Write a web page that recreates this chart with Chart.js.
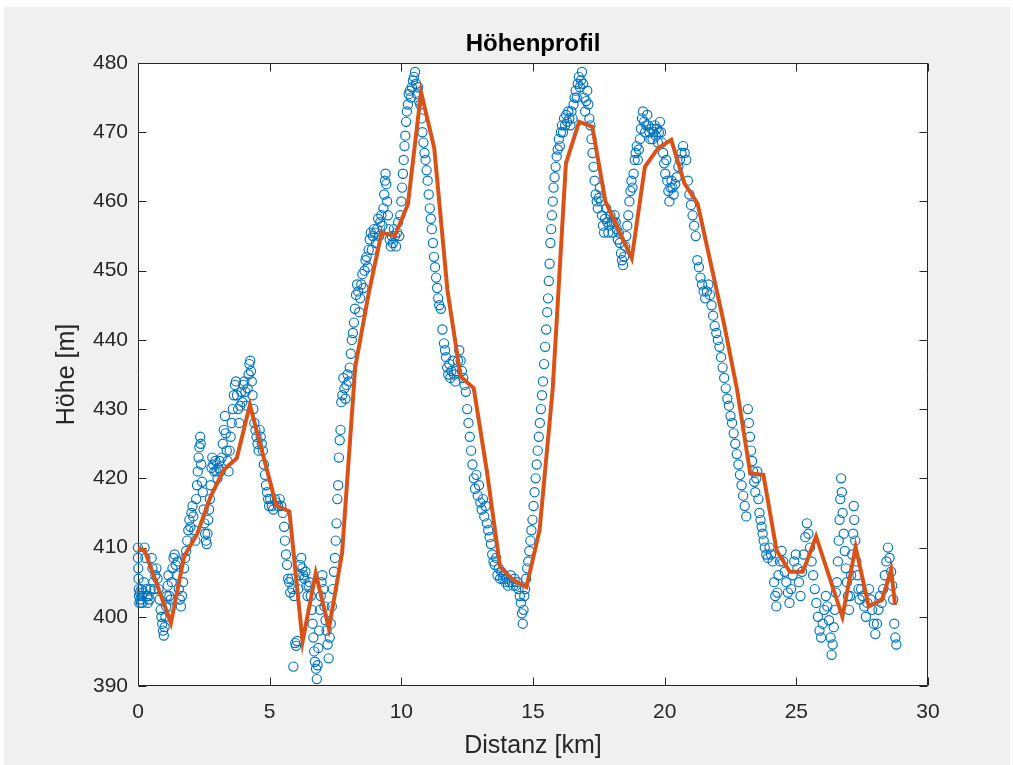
<!DOCTYPE html>
<html><head><meta charset="utf-8">
<script src="https://cdn.jsdelivr.net/npm/chart.js@4/dist/chart.umd.min.js"></script>
<style>html,body{margin:0;padding:0;background:#fff;overflow:hidden}</style>
</head><body>
<canvas id="c" width="1013" height="765" style="display:block;width:1013px;height:765px"></canvas>
<script>
// Axis ticks
const xTicks = [0, 5, 10, 15, 20, 25, 30];
const yTicks = [390, 400, 410, 420, 430, 440, 450, 460, 470, 480];

// Measured track: distance [km]
const trackKm = [
0.00,0.00,0.01,0.02,0.03,0.04,0.05,0.07,0.09,0.11,
0.13,0.15,0.17,0.20,0.22,0.25,0.28,0.31,0.34,0.37,
0.40,0.44,0.48,0.52,0.55,0.58,0.62,0.66,0.70,0.74,
0.78,0.82,0.86,0.89,0.92,0.95,0.98,1.01,1.04,1.07,
1.10,1.13,1.16,1.19,1.22,1.25,1.28,1.31,1.35,1.39,
1.43,1.47,1.51,1.55,1.59,1.63,1.67,1.71,1.75,1.79,
1.83,1.87,1.91,1.95,1.99,2.03,2.07,2.10,2.14,2.18,
2.21,2.24,2.27,2.30,2.33,2.36,2.38,2.40,2.43,2.46,
2.49,2.52,2.55,2.58,2.61,2.64,2.67,2.70,2.73,2.76,
2.79,2.82,2.86,2.90,2.94,2.98,3.02,3.06,3.10,3.14,
3.18,3.22,3.26,3.30,3.33,3.37,3.40,3.44,3.48,3.52,
3.56,3.60,3.64,3.68,3.72,3.76,3.80,3.84,3.88,3.92,
3.96,4.00,4.04,4.08,4.12,4.16,4.20,4.23,4.26,4.29,
4.32,4.35,4.38,4.42,4.46,4.50,4.54,4.58,4.62,4.66,
4.70,4.74,4.78,4.82,4.86,4.90,4.94,4.98,5.02,5.08,
5.14,5.20,5.26,5.32,5.38,5.44,5.50,5.55,5.58,5.62,
5.66,5.70,5.74,5.78,5.82,5.86,5.90,5.93,5.97,6.00,
6.04,6.08,6.12,6.16,6.20,6.24,6.28,6.32,6.36,6.40,
6.44,6.48,6.52,6.56,6.60,6.63,6.66,6.69,6.72,6.76,
6.79,6.82,6.85,6.88,6.91,6.94,6.97,7.00,7.04,7.08,
7.12,7.16,7.20,7.24,7.28,7.32,7.36,7.40,7.44,7.48,
7.51,7.54,7.57,7.60,7.63,7.66,7.69,7.72,7.76,7.80,
7.84,7.88,7.92,7.96,8.00,8.04,8.08,8.12,8.16,8.20,
8.24,8.28,8.32,8.36,8.40,8.44,8.48,8.52,8.56,8.60,
8.64,8.68,8.72,8.76,8.80,8.84,8.88,8.92,8.96,9.00,
9.04,9.08,9.12,9.16,9.20,9.24,9.28,9.32,9.35,9.38,
9.40,9.43,9.46,9.49,9.52,9.56,9.60,9.64,9.68,9.72,
9.76,9.80,9.84,9.88,9.92,9.96,10.00,10.03,10.06,10.09,
10.12,10.15,10.18,10.21,10.25,10.28,10.32,10.36,10.40,10.44,
10.48,10.52,10.56,10.60,10.64,10.68,10.72,10.76,10.80,10.84,
10.88,10.92,10.96,11.00,11.04,11.08,11.12,11.16,11.20,11.24,
11.28,11.32,11.36,11.40,11.44,11.50,11.56,11.62,11.66,11.70,
11.74,11.78,11.82,11.86,11.90,11.95,12.00,12.05,12.10,12.15,
12.20,12.25,12.30,12.35,12.40,12.45,12.50,12.55,12.60,12.65,
12.70,12.75,12.80,12.85,12.90,12.95,13.00,13.05,13.10,13.15,
13.20,13.25,13.30,13.35,13.40,13.45,13.50,13.55,13.60,13.65,
13.70,13.75,13.80,13.85,13.90,13.95,14.00,14.05,14.10,14.15,
14.20,14.25,14.30,14.35,14.40,14.45,14.50,14.54,14.58,14.61,
14.64,14.67,14.70,14.74,14.78,14.82,14.86,14.90,14.94,14.98,
15.02,15.06,15.10,15.14,15.18,15.22,15.26,15.30,15.34,15.38,
15.42,15.46,15.50,15.54,15.57,15.60,15.63,15.66,15.69,15.72,
15.75,15.78,15.82,15.86,15.90,15.94,15.98,16.02,16.06,16.10,
16.14,16.18,16.22,16.26,16.30,16.34,16.38,16.42,16.46,16.50,
16.54,16.58,16.62,16.66,16.70,16.74,16.78,16.82,16.86,16.90,
16.94,16.98,17.02,17.06,17.10,17.14,17.18,17.22,17.26,17.30,
17.34,17.38,17.42,17.46,17.50,17.54,17.58,17.62,17.66,17.70,
17.74,17.78,17.82,17.86,17.90,17.94,17.98,18.02,18.06,18.10,
18.14,18.18,18.22,18.26,18.30,18.34,18.38,18.42,18.46,18.50,
18.54,18.58,18.62,18.66,18.70,18.74,18.78,18.82,18.86,18.90,
18.94,18.98,19.02,19.06,19.10,19.14,19.18,19.22,19.26,19.30,
19.34,19.38,19.42,19.46,19.50,19.54,19.58,19.62,19.66,19.70,
19.74,19.78,19.82,19.86,19.90,19.94,19.98,20.02,20.06,20.10,
20.14,20.18,20.22,20.26,20.30,20.34,20.40,20.46,20.52,20.58,
20.64,20.70,20.76,20.82,20.88,20.94,21.00,21.06,21.12,21.18,
21.24,21.30,21.36,21.42,21.48,21.54,21.60,21.66,21.72,21.78,
21.84,21.90,21.96,22.02,22.08,22.14,22.20,22.26,22.32,22.38,
22.44,22.50,22.56,22.62,22.68,22.74,22.80,22.86,22.92,22.98,
23.04,23.10,23.16,23.20,23.24,23.28,23.32,23.36,23.40,23.44,
23.48,23.52,23.56,23.60,23.64,23.68,23.72,23.76,23.80,23.86,
23.92,23.98,24.04,24.10,24.16,24.20,24.24,24.28,24.32,24.38,
24.44,24.50,24.56,24.62,24.68,24.74,24.80,24.86,24.92,24.98,
25.04,25.10,25.16,25.22,25.28,25.34,25.40,25.46,25.52,25.58,
25.64,25.70,25.76,25.82,25.88,25.94,26.00,26.06,26.12,26.18,
26.24,26.30,26.34,26.38,26.42,26.46,26.50,26.54,26.58,26.61,
26.64,26.67,26.70,26.73,26.76,26.80,26.84,26.88,26.92,26.96,
27.00,27.04,27.08,27.12,27.16,27.18,27.20,27.24,27.28,27.32,
27.36,27.40,27.46,27.52,27.58,27.64,27.70,27.76,27.82,27.88,
27.94,28.00,28.06,28.12,28.18,28.24,28.30,28.36,28.42,28.48,
28.54,28.60,28.64,28.68,28.72,28.76,28.80
];

// Measured track: elevation [m]
const trackM = [
410,408.5,407,405.5,404,403,402,403.5,402.5,402,
404,403,402,403.5,405,410,408.5,404,403,402,
403,402.5,404,408.5,407,405,404,406,407,405.5,
404,402.5,401,400,399,398,397.3,398.5,400,401.5,
403,404.5,406,403,401.5,402.5,405,407,408.5,409,
407.5,406,408,404,402.5,401.5,403,405,407,408.5,
409.5,411,412.5,414,413,415,416,414.5,412.5,411,
417,419,421,423,424.5,426,425,422,419.5,418,
415.5,413.5,412,411,410.5,412,414,415.5,417,419,
421.5,423,422,421,422.5,421,420,421.5,422.5,421,
423,425,427,429,426.5,424,422.5,421,424,426,
428,430,432,433.5,434,432,430,428,430.5,432.5,
431,433.5,434,432.5,430.5,433,435,436.5,437,435.5,
434,432,430,428,427,426,425,424,427,426,
425,424,422,420.5,419,418,417,416,417,416,
415.5,417,416.5,416,417,416,415,413,411,409,
407.5,405.5,405,403.5,405.5,404,392.8,403,396.2,395.8,
396.5,404,406,407.5,408.5,407,406,405.5,406.5,404.5,
403,404.5,405,403,401,399,397,395,393.5,392.5,
391,393,395.5,398,401,403,405,406,404,401.5,
399.5,398,396,394,397,399,401.5,404,406.5,408.5,
411,413.5,417,419,423,425.5,427,431,432,434.5,
433,431.5,433.5,435,434,436,438,440,441,442.5,
444.5,446.5,448,447,444,446,448,449.5,447.5,450,
451.5,452,450.5,453,454.5,455.5,453,455,456,455.5,
454,456,457.5,455,457,458,456.5,459,461,463,
464,462.5,460,458,456,454.5,453.5,455,454,456,
455,453.5,455.5,457,455,458,460,462,464,466,
468,469.5,471.5,473,474,475.5,476,475,476.5,477.5,
478,478.7,477,475.5,476.5,474.5,474,472,470,468.5,
467,466,464.5,463,461,459,457.5,456,454,452,
450.5,449,447.5,446,445,444.5,441.5,439.5,438.5,437.5,
436,435,436.5,434.5,435.5,437,435,434,435.5,437,
438.5,437,435.5,434.5,433.5,432.5,430,428,426,424,
422,420,418.5,420.5,417.5,419,416.5,415.5,417,414.5,
416,413.5,412.5,411.5,410.5,409,408,407.5,408.5,406,
407,405.5,406.5,405.5,406,405,405.5,404.5,405,406,
405,404.5,405.5,404.5,405,404,403,402,400.5,399,
401,403,404,405.5,407,408,409.5,411,412.5,414,
416,418,420,422,424,426,428,430,432,434,
436.5,439,441.5,444,446,448.5,451,454,456,458,
460,462,463.5,465,466.5,467.5,469,468,470,471,
470,472,471,472.5,471.5,473,472,471,473,472,
474,475,476,475,477,478,476.5,477.5,478.7,477,
475,473,474.5,476,474,472,471,469,467,465,
463,461,460,459,460.5,462,460,458,456.5,455.5,
457.5,459,457,455.5,456.5,458,457,455.5,457,458,
457,456,454.5,455.5,454,452.5,451.5,450.8,452,453.5,
455,456.5,458,460,461.5,463,462,464,466,467,
468,466,467.5,469,470.5,472,473,471.5,470,471,
472.5,471,470,469,470.5,469,470,471,469.5,470.5,
468.5,470,471.5,470,468.5,467,465.5,464,466,463,
461.5,460,462,463,462,461,462.5,463.5,465,466,
467,468,467,466,463,461,459.5,458,456.5,455,
451.5,450.5,449,448,447,446,447,448,446.5,445,
443.5,442,441,440,439,437.5,436,434.5,433,431.5,
430.5,429,428,426.5,425,423.5,422,420.5,419,417.5,
416,414.5,430,428,426,424,422.5,421,419.5,418,
420,421,417,415,414,413,412,411,410,409,
408.5,410,409,408,405,403,401.5,403.5,406,408,
409.5,408,406.5,405,403.5,402,404,406,408,409,
407,405,403,406.5,409,411.5,413.5,412,410,408,
406,404,402,400,398,397,399,401,403,401.5,
399.5,397,394.5,396,398.5,401,403.5,405,408,411,
414,417,420,418,415,412,409.5,407,405,403,
401,403,406,409,412,416,414,411,408,406,
404,402.5,404,403,401.5,400,402,404,402.5,401,
399,397.5,399,401,403,402,404,406,408,410,
408.5,406.5,404.5,402.5,399,397,396
];

// Smoothed profile (orange line)
const profileKm = [0, 0.25, 1.25, 1.75, 2.25, 2.75, 3.25, 3.75, 4.25, 5.25, 5.75, 6.25, 6.75, 7.25, 7.75, 8.25, 8.75, 9.25, 9.75, 10.25, 10.75, 11.25, 11.75, 12.25, 12.75, 13.25, 13.75, 14.25, 14.75, 15.25, 15.75, 16.25, 16.75, 17.25, 17.75, 18.75, 19.25, 19.75, 20.25, 20.75, 21.25, 22.25, 22.75, 23.25, 23.75, 24.25, 24.75, 25.25, 25.75, 26.75, 27.25, 27.75, 28.25, 28.6, 28.75];
const profileM = [409.9, 409.6, 399.1, 408.7, 412, 417.3, 421.2, 422.9, 430.6, 416.1, 415.2, 396.4, 406.3, 398.3, 409.2, 436.1, 446.5, 455.5, 455, 459.6, 475.8, 467.7, 447.2, 434.7, 433, 421, 407.2, 405.3, 404.3, 412.5, 433, 465.5, 471.5, 470.8, 460, 451.8, 465, 467.7, 468.9, 462.6, 459.7, 442.4, 432.8, 420.7, 420.5, 409.6, 406.5, 406.5, 411.6, 400, 410.1, 401.5, 402.4, 406.8, 401.7];

const FONT = "'Liberation Sans', Arial, Helvetica, sans-serif";
const AXC = '#262626';

const frame = {
  id: 'frame',
  beforeDraw(chart) {
    const {ctx, chartArea: a} = chart;
    ctx.save();
    ctx.fillStyle = '#ffffff';
    ctx.fillRect(0, 0, chart.width, chart.height);
    ctx.fillStyle = '#f0f0f0';
    ctx.fillRect(4, 7, chart.width - 7, chart.height - 7);
    ctx.fillStyle = '#ffffff';
    ctx.fillRect(a.left, a.top, a.right - a.left, a.bottom - a.top);
    ctx.restore();
  },
  beforeDatasetsDraw(chart) {
    const {ctx, chartArea: a, scales} = chart;
    const L = Math.round(a.left) + 0.5, R = Math.round(a.right) - 0.5;
    const T = Math.round(a.top) + 0.5, B = Math.round(a.bottom) - 0.5;
    const tl = 8;
    ctx.save();
    ctx.strokeStyle = AXC;
    ctx.lineWidth = 1;
    ctx.beginPath();
    ctx.rect(L, T, R - L, B - T);
    xTicks.forEach(v => {
      const p = Math.round(scales.x.getPixelForValue(v)) + 0.5;
      ctx.moveTo(p, B); ctx.lineTo(p, B - tl);
      ctx.moveTo(p, T); ctx.lineTo(p, T + tl);
    });
    yTicks.forEach(v => {
      const p = Math.round(scales.y.getPixelForValue(v)) + 0.5;
      ctx.moveTo(L, p); ctx.lineTo(L + tl, p);
      ctx.moveTo(R, p); ctx.lineTo(R - tl, p);
    });
    ctx.stroke();
    ctx.restore();
  }
};

new Chart(document.getElementById('c'), {
  type: 'scatter',
  data: {
    datasets: [
      {
        label: 'Profil',
        data: profileKm.map((x, i) => ({x, y: profileM[i]})),
        showLine: true,
        borderColor: '#D95319',
        borderWidth: 4,
        pointRadius: 0,
        tension: 0,
        order: 0,
        clip: false
      },
      {
        label: 'Messpunkte',
        data: trackKm.map((x, i) => ({x, y: trackM[i]})),
        showLine: false,
        pointStyle: 'circle',
        pointRadius: 4.6,
        pointBorderWidth: 1.15,
        pointBorderColor: '#0072BD',
        pointBackgroundColor: 'rgba(0,0,0,0)',
        order: 1,
        clip: false
      }
    ]
  },
  options: {
    responsive: false,
    animation: false,
    devicePixelRatio: 1,
    events: [],
    layout: {padding: {left: 0, right: 85, top: 0, bottom: 0}},
    plugins: {
      legend: {display: false},
      tooltip: {enabled: false},
      title: {
        display: true,
        text: 'Höhenprofil',
        fullSize: false,
        color: '#000000',
        font: {family: FONT, size: 24, weight: 'bold'},
        padding: {top: 29.6, bottom: 63 - 29.6 - 24 * 1.2}
      }
    },
    scales: {
      x: {
        type: 'linear',
        min: 0, max: 30,
        afterBuildTicks(s) { s.ticks = xTicks.map(v => ({value: v})); },
        afterFit(s) { s.height = 79; },
        grid: {display: false, drawTicks: false},
        border: {display: false},
        ticks: {color: AXC, font: {family: FONT, size: 21}, padding: 14, maxRotation: 0},
        title: {display: true, text: 'Distanz [km]', color: AXC, font: {family: FONT, size: 25}, padding: {top: 0, bottom: 4}}
      },
      y: {
        type: 'linear',
        min: 390, max: 480,
        afterBuildTicks(s) { s.ticks = yTicks.map(v => ({value: v})); },
        afterFit(s) { s.width = 138; },
        grid: {display: false, drawTicks: false},
        border: {display: false},
        ticks: {color: AXC, font: {family: FONT, size: 21}, padding: 10},
        title: {display: true, text: 'Höhe [m]', color: AXC, font: {family: FONT, size: 25}, padding: {top: 52, bottom: 0}}
      }
    }
  },
  plugins: [frame]
});
</script>
</body></html>
